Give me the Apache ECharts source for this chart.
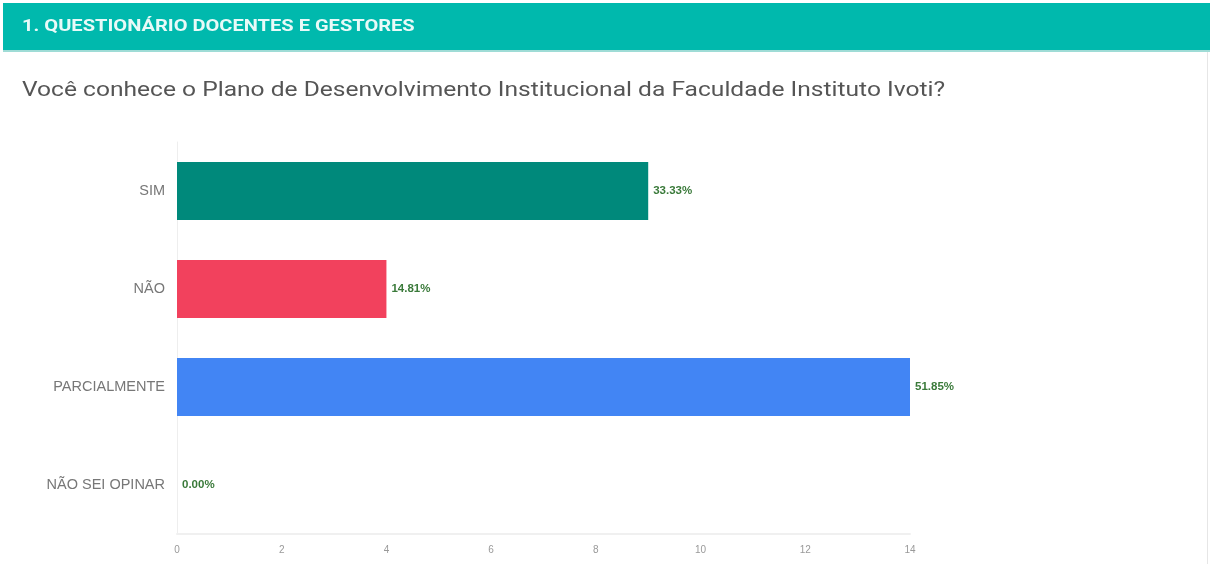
<!DOCTYPE html>
<html>
<head>
<meta charset="utf-8">
<script src="https://cdn.jsdelivr.net/npm/echarts@6/dist/echarts.min.js"></script>
<style>
  html, body { margin: 0; padding: 0; background: #fff; }
  #chart { width: 1211px; height: 564px; }
</style>
</head>
<body>
<div id="chart"></div>
<script>
// data
var categories = ['SIM', 'NÃO', 'PARCIALMENTE', 'NÃO SEI OPINAR']
var counts = [9, 4, 14, 0]
var barColors = ['#00897b', '#f2415d', '#4285f4', '#9e9e9e']
var xTicks = [0, 2, 4, 6, 8, 10, 12, 14]
var sectionTitle = '1. QUESTIONÁRIO DOCENTES E GESTORES'
var question = 'Você conhece o Plano de Desenvolvimento Institucional da Faculdade Instituto Ivoti?'

var total = counts.reduce(function (a, b) { return a + b }, 0)

var chart = echarts.init(document.getElementById('chart'))
chart.setOption({
  animation: false,
  textStyle: { fontFamily: 'Roboto, Arial, sans-serif' },
  graphic: [
    { type: 'rect', shape: { x: 3, y: 3, width: 1207, height: 47 }, style: { fill: '#00b9ad' } },
    { type: 'rect', shape: { x: 3, y: 50, width: 1207, height: 2 }, style: { fill: '#9fdcd6' } },
    { type: 'rect', shape: { x: 1207, y: 52, width: 1, height: 512 }, style: { fill: '#e6e6e6' } },
    {
      // the screenshot is a bit stretched sideways, hence scaleX
      type: 'text', x: 22, y: 18, scaleX: 1.18,
      style: { text: sectionTitle, fill: '#e8faf8', font: 'bold 17px Roboto, Arial, sans-serif' }
    },
    {
      type: 'text', x: 22, y: 80, scaleX: 1.17,
      style: { text: question, fill: '#555', font: '21px Roboto, Arial, sans-serif' }
    }
  ],
  grid: { left: 177, right: 301, top: 142, bottom: 30 },
  xAxis: {
    type: 'value',
    min: xTicks[0],
    max: xTicks[xTicks.length - 1],
    interval: 2,
    axisLine: { show: true, lineStyle: { color: '#f0f0f0', width: 2 } },
    axisTick: { show: false },
    splitLine: { show: false },
    axisLabel: { color: '#999', fontSize: 10, margin: 11, fontFamily: 'Liberation Sans, Arial, sans-serif' }
  },
  yAxis: {
    type: 'category',
    inverse: true,
    data: categories,
    axisLine: { show: true, lineStyle: { color: '#eeeeee' } },
    axisTick: { show: false },
    axisLabel: { color: '#777', fontSize: 14.5, margin: 12, fontFamily: 'Liberation Sans, Arial, sans-serif' }
  },
  series: [{
    type: 'bar',
    barWidth: 58,
    data: counts.map(function (v, i) {
      return { value: v, itemStyle: { color: barColors[i] } }
    }),
    label: {
      show: true,
      position: 'right',
      distance: 5,
      color: '#3a7a3a',
      fontSize: 11.5,
      fontWeight: 'bold',
      fontFamily: 'Liberation Sans, Arial, sans-serif',
      formatter: function (p) {
        return (p.value / total * 100).toFixed(2) + '%'
      }
    }
  }]
})
</script>
</body>
</html>
